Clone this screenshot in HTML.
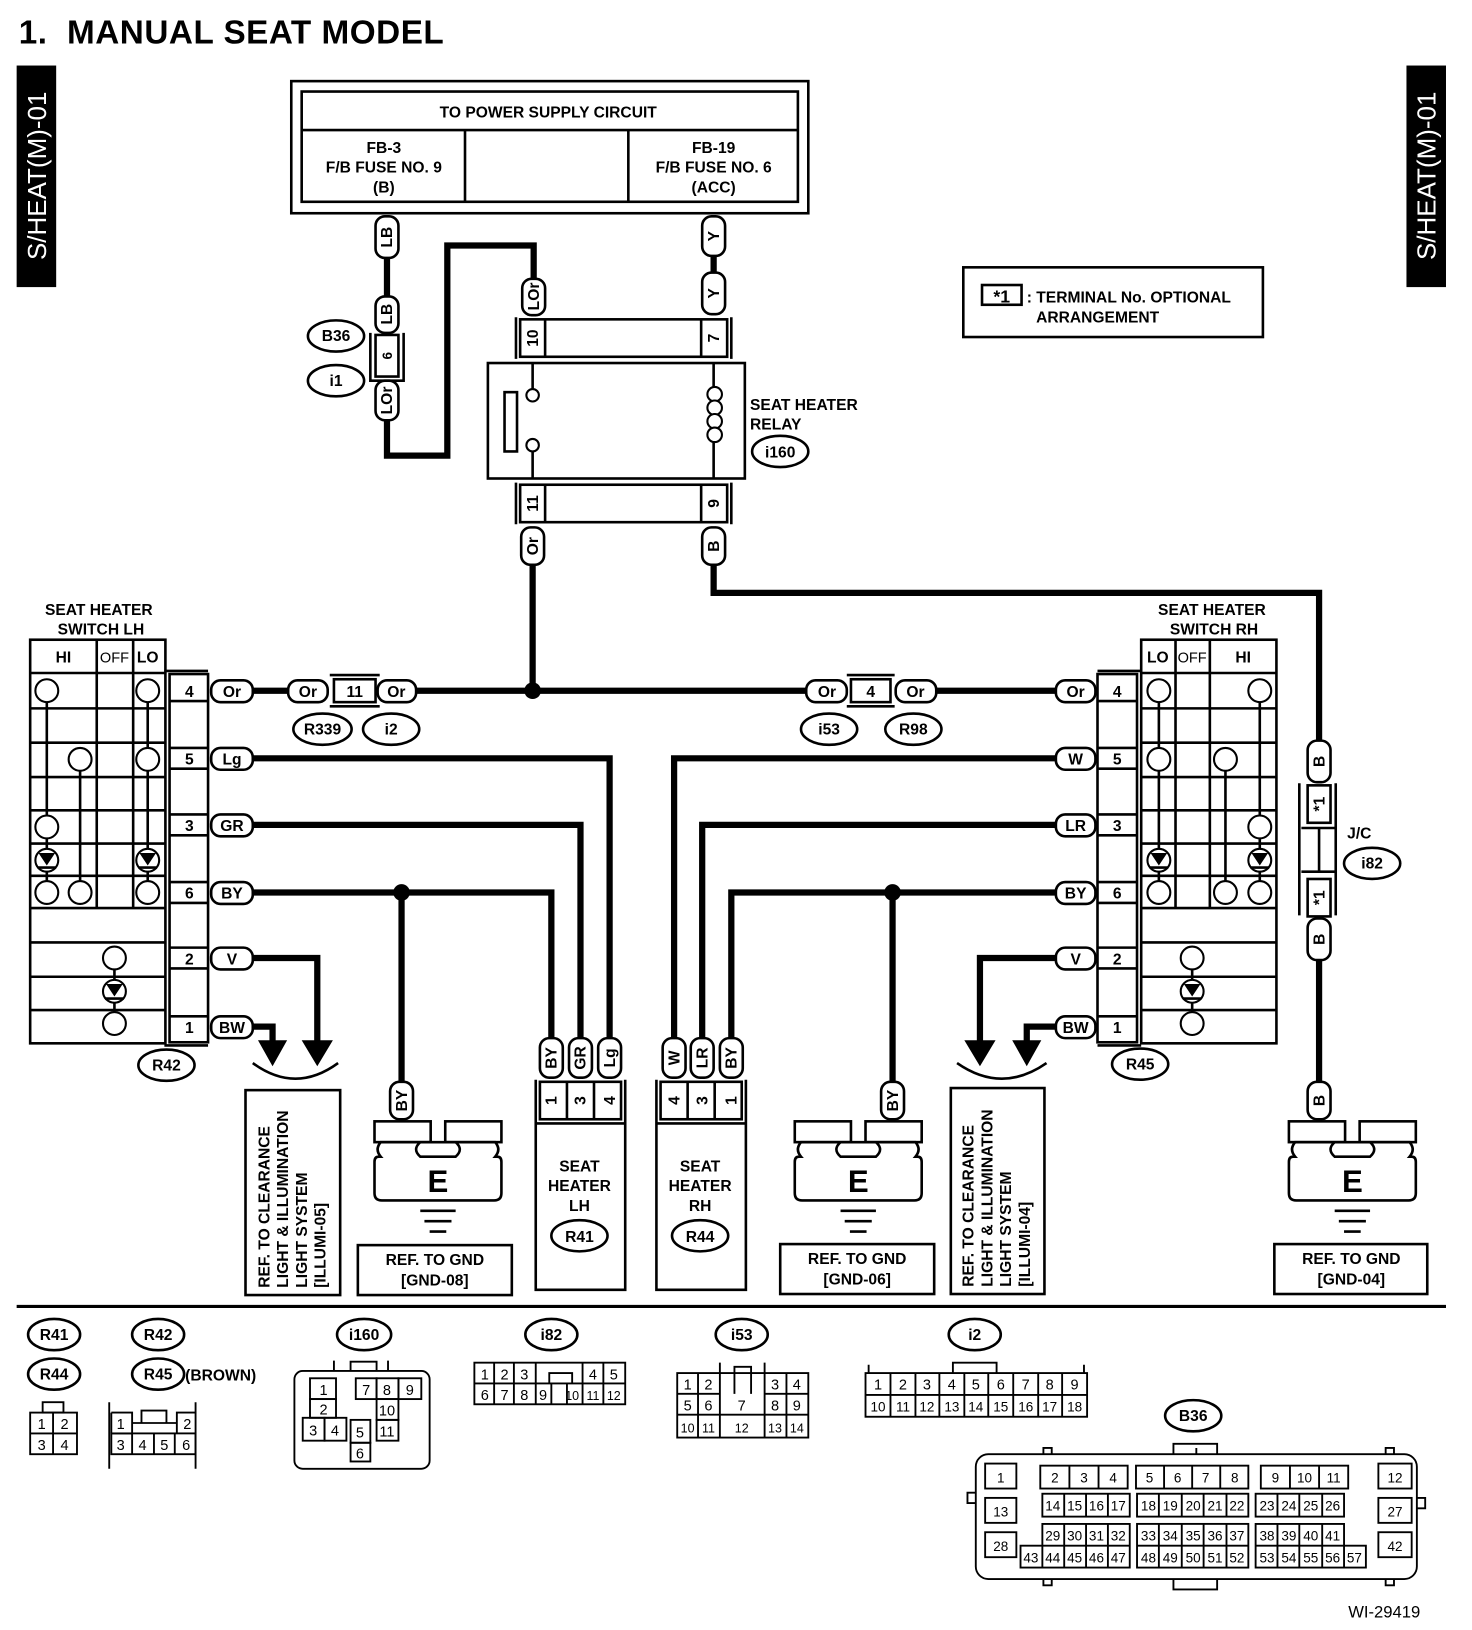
<!DOCTYPE html>
<html><head><meta charset="utf-8"><style>
html,body{margin:0;padding:0;background:#fff}
svg{display:block}
.t{font-family:"Liberation Sans",sans-serif;font-weight:bold;font-size:15px;fill:#000}
.s{font-family:"Liberation Sans",sans-serif;font-size:14px;fill:#000}
.w{fill:none;stroke:#000;stroke-width:6}
.l{fill:none;stroke:#000;stroke-width:2.5}
.p{fill:#fff;stroke:#000;stroke-width:2.5}
.c{fill:#fff;stroke:#000;stroke-width:2}
</style></head><body>
<svg width="1472" height="1630" viewBox="0 0 1415 1567" preserveAspectRatio="none" xmlns="http://www.w3.org/2000/svg">
<text x="18" y="42" class="t" style="font-size:32px;letter-spacing:0.5px">1.&#160; MANUAL SEAT MODEL</text>
<rect x="16" y="63" width="38" height="213" fill="#000"/>
<text transform="translate(44,169) rotate(-90)" text-anchor="middle" class="t" style="font-size:25px;fill:#fff;font-weight:normal">S/HEAT(M)-01</text>
<rect x="1352" y="63" width="38" height="213" fill="#000"/>
<text transform="translate(1380,169) rotate(-90)" text-anchor="middle" class="t" style="font-size:25px;fill:#fff;font-weight:normal">S/HEAT(M)-01</text>

<rect x="280" y="78" width="497" height="127" class="l"/>
<rect x="290" y="88" width="477" height="106" class="l"/>
<line x1="290" y1="125" x2="767" y2="125" class="l"/>
<line x1="447" y1="125" x2="447" y2="194" class="l"/>
<line x1="604" y1="125" x2="604" y2="194" class="l"/>
<g class="t" text-anchor="middle">
<text x="527" y="113">TO POWER SUPPLY CIRCUIT</text>
<text x="369" y="147">FB-3</text><text x="369" y="166">F/B FUSE NO. 9</text><text x="369" y="185">(B)</text>
<text x="686" y="147">FB-19</text><text x="686" y="166">F/B FUSE NO. 6</text><text x="686" y="185">(ACC)</text>
</g>

<rect x="926" y="257" width="288" height="67" class="l"/>
<rect x="944" y="274" width="38" height="19" class="l"/>
<text x="963" y="291" text-anchor="middle" class="t" style="font-size:17px">*1</text>
<text x="987" y="291" class="t">: TERMINAL No. OPTIONAL</text>
<text x="996" y="310" class="t">ARRANGEMENT</text>

<path class="w" d="M372 248V285M372 404V438H430V236H513V268M686 246V262M512 543V664M686 543V570H1268V712M1268 923V1040M243 664H277M400 664H775M900 664H1015"/>
<path class="w" d="M243 729H586V998M243 793H558V998M243 858H530V998M386 858V1040M243 921H305V1002M243 987H262V1002"/>
<path class="w" d="M1015 729H648V998M1015 793H675V998M1015 858H703V998M858 858V1040M1015 921H942V1002M1015 987H987V1002"/>
<circle cx="512" cy="664" r="8"/><circle cx="386" cy="858" r="8"/><circle cx="858" cy="858" r="8"/>
<path d="M290 1000H320L305 1025Z M248 1000H276L262 1025Z M927 1000H957L942 1025Z M973 1000H1001L987 1025Z"/>
<path class="l" d="M243 1022Q284 1052 325 1022M920 1022Q963 1052 1006 1022"/>

<g class="p">
<rect x="361" y="208" width="22" height="40" rx="9"/>
<rect x="361" y="285" width="22" height="35" rx="9"/>
<rect x="361" y="366" width="22" height="38" rx="9"/>
<rect x="502" y="268" width="22" height="35" rx="9"/>
<rect x="675" y="208" width="22" height="38" rx="9"/>
<rect x="675" y="262" width="22" height="40" rx="9"/>
<rect x="501" y="507" width="22" height="36" rx="9"/>
<rect x="675" y="507" width="22" height="36" rx="9"/>
<rect x="1257" y="712" width="22" height="40" rx="9"/>
<rect x="1257" y="883" width="22" height="40" rx="9"/>
<rect x="1257" y="1040" width="22" height="36" rx="9"/>
<rect x="375" y="1040" width="22" height="36" rx="9"/>
<rect x="847" y="1040" width="22" height="36" rx="9"/>
<rect x="519" y="998" width="22" height="38" rx="9"/>
<rect x="547" y="998" width="22" height="38" rx="9"/>
<rect x="575" y="998" width="22" height="38" rx="9"/>
<rect x="637" y="998" width="22" height="38" rx="9"/>
<rect x="664" y="998" width="22" height="38" rx="9"/>
<rect x="692" y="998" width="22" height="38" rx="9"/>
</g>
<g class="t" text-anchor="middle">
<text transform="translate(377,228) rotate(-90)">LB</text>
<text transform="translate(377,302) rotate(-90)">LB</text>
<text transform="translate(377,385) rotate(-90)">LOr</text>
<text transform="translate(518,285) rotate(-90)">LOr</text>
<text transform="translate(691,227) rotate(-90)">Y</text>
<text transform="translate(691,282) rotate(-90)">Y</text>
<text transform="translate(517,525) rotate(-90)">Or</text>
<text transform="translate(691,525) rotate(-90)">B</text>
<text transform="translate(1273,732) rotate(-90)">B</text>
<text transform="translate(1273,903) rotate(-90)">B</text>
<text transform="translate(1273,1058) rotate(-90)">B</text>
<text transform="translate(391,1058) rotate(-90)">BY</text>
<text transform="translate(863,1058) rotate(-90)">BY</text>
<text transform="translate(535,1017) rotate(-90)">BY</text>
<text transform="translate(563,1017) rotate(-90)">GR</text>
<text transform="translate(591,1017) rotate(-90)">Lg</text>
<text transform="translate(653,1017) rotate(-90)">W</text>
<text transform="translate(680,1017) rotate(-90)">LR</text>
<text transform="translate(708,1017) rotate(-90)">BY</text>
</g>

<rect x="361" y="322" width="22" height="40" class="p"/>
<path class="l" d="M356 320V366H388V320"/>
<text transform="translate(377,342) rotate(-90)" text-anchor="middle" class="t" style="font-size:13px">6</text>
<ellipse cx="323" cy="323" rx="27" ry="15" class="p"/><text x="323" y="328" text-anchor="middle" class="t">B36</text>
<ellipse cx="323" cy="366" rx="27" ry="15" class="p"/><text x="323" y="371" text-anchor="middle" class="t">i1</text>

<path class="l" d="M496 305V345M703 305V345M496 464V504M703 464V504"/>
<rect x="500" y="307" width="199" height="36" class="l"/>
<line x1="524" y1="307" x2="524" y2="343" class="l"/><line x1="674" y1="307" x2="674" y2="343" class="l"/>
<rect x="500" y="466" width="199" height="36" class="l"/>
<line x1="524" y1="466" x2="524" y2="502" class="l"/><line x1="674" y1="466" x2="674" y2="502" class="l"/>
<g class="t" text-anchor="middle">
<text transform="translate(517,325) rotate(-90)">10</text>
<text transform="translate(691,325) rotate(-90)">7</text>
<text transform="translate(517,484) rotate(-90)">11</text>
<text transform="translate(691,484) rotate(-90)">9</text>
</g>
<rect x="469" y="349" width="247" height="111" class="l"/>
<rect x="485" y="377" width="12" height="57" class="l"/>
<path class="l" d="M512 349V374M512 434V460M686 349V372M686 425V460"/>
<circle cx="512" cy="380" r="6" class="c"/><circle cx="512" cy="428" r="6" class="c"/>
<g class="c"><circle cx="687" cy="379" r="7"/><circle cx="687" cy="392" r="7"/><circle cx="687" cy="405" r="7"/><circle cx="687" cy="418" r="7"/></g>
<text x="721" y="394" class="t">SEAT HEATER</text><text x="721" y="413" class="t">RELAY</text>
<ellipse cx="750" cy="434" rx="27" ry="15" class="p"/><text x="750" y="440" text-anchor="middle" class="t">i160</text>

<g class="p">
<rect x="203" y="654" width="40" height="21" rx="9"/>
<rect x="277" y="654" width="38" height="21" rx="9"/>
<rect x="363" y="654" width="37" height="21" rx="9"/>
<rect x="775" y="654" width="39" height="21" rx="9"/>
<rect x="861" y="654" width="39" height="21" rx="9"/>
<rect x="1015" y="654" width="38" height="21" rx="9"/>
<rect x="321" y="653" width="40" height="22"/>
<rect x="818" y="653" width="38" height="22"/>
<rect x="203" y="719" width="40" height="21" rx="9"/>
<rect x="203" y="783" width="40" height="21" rx="9"/>
<rect x="203" y="848" width="40" height="21" rx="9"/>
<rect x="203" y="911" width="40" height="21" rx="9"/>
<rect x="203" y="977" width="40" height="21" rx="9"/>
<rect x="1015" y="719" width="38" height="21" rx="9"/>
<rect x="1015" y="783" width="38" height="21" rx="9"/>
<rect x="1015" y="848" width="38" height="21" rx="9"/>
<rect x="1015" y="911" width="38" height="21" rx="9"/>
<rect x="1015" y="977" width="38" height="21" rx="9"/>
</g>
<path class="l" d="M317 649H365M317 679H365M814 649H860M814 679H860"/>
<g class="t" text-anchor="middle">
<text x="223" y="670">Or</text><text x="296" y="670">Or</text><text x="341" y="670">11</text><text x="381" y="670">Or</text>
<text x="795" y="670">Or</text><text x="837" y="670">4</text><text x="880" y="670">Or</text><text x="1034" y="670">Or</text>
<text x="223" y="735">Lg</text><text x="223" y="799">GR</text><text x="223" y="864">BY</text><text x="223" y="927">V</text><text x="223" y="993">BW</text>
<text x="1034" y="735">W</text><text x="1034" y="799">LR</text><text x="1034" y="864">BY</text><text x="1034" y="927">V</text><text x="1034" y="993">BW</text>
</g>
<g class="p">
<ellipse cx="310" cy="701" rx="28" ry="15"/><ellipse cx="376" cy="701" rx="27" ry="15"/>
<ellipse cx="797" cy="701" rx="27" ry="15"/><ellipse cx="878" cy="701" rx="27" ry="15"/>
<ellipse cx="160" cy="1024" rx="27" ry="15"/><ellipse cx="1096" cy="1023" rx="27" ry="15"/>
<ellipse cx="1319" cy="830" rx="27" ry="15"/>
</g>
<g class="t" text-anchor="middle">
<text x="310" y="706">R339</text><text x="376" y="706">i2</text><text x="797" y="706">i53</text><text x="878" y="706">R98</text>
<text x="160" y="1029">R42</text><text x="1096" y="1028">R45</text><text x="1319" y="835">i82</text>
</g>

<rect x="1257" y="755" width="22" height="36" class="p"/>
<rect x="1257" y="845" width="22" height="36" class="p"/>
<path class="l" d="M1249 753V880M1284 753V880M1251 796H1284M1251 838H1284M1268 796V838"/>
<text transform="translate(1273,773) rotate(-90)" text-anchor="middle" class="t">*1</text>
<text transform="translate(1273,863) rotate(-90)" text-anchor="middle" class="t">*1</text>
<text x="1295" y="806" class="t">J/C</text>

<text x="95" y="591" text-anchor="middle" class="t">SEAT HEATER</text>
<text x="97" y="610" text-anchor="middle" class="t">SWITCH LH</text>
<rect x="29" y="615" width="130" height="388" class="l"/>
<path class="l" d="M29 647H159M93 615V873M128 615V873M29 681H159M29 714H159M29 747H159M29 779H159M29 811H159M29 842H159M29 873H159M29 906H159M29 939H159M29 971H159"/>
<g class="t" text-anchor="middle"><text x="61" y="637">HI</text><text x="110" y="637" style="font-size:14px;font-weight:normal">OFF</text><text x="142" y="637">LO</text></g>
<path class="l" d="M45 664V858M142 664V858M77 730V858M110 921V984"/>
<g class="c"><circle cx="45" cy="664" r="11"/><circle cx="142" cy="664" r="11"/><circle cx="77" cy="730" r="11"/><circle cx="142" cy="730" r="11"/><circle cx="45" cy="795" r="11"/><circle cx="45" cy="858" r="11"/><circle cx="77" cy="858" r="11"/><circle cx="142" cy="858" r="11"/><circle cx="45" cy="827" r="11"/><circle cx="142" cy="827" r="11"/><circle cx="110" cy="921" r="11"/><circle cx="110" cy="953" r="11"/><circle cx="110" cy="984" r="11"/></g>
<path d="M37 820H53L45 832Z M134 820H150L142 832Z M102 946H118L110 958Z"/>
<path class="l" d="M36 834H54M133 834H151M101 960H119"/>
<path class="l" d="M158 645H200M158 1005H200"/>
<rect x="163" y="648" width="37" height="354" class="l"/>
<path class="l" d="M163 674H200M163 719H200M163 739H200M163 783H200M163 803H200M163 848H200M163 868H200M163 911H200M163 931H200M163 977H200"/>
<g class="t" text-anchor="middle"><text x="182" y="670">4</text><text x="182" y="735">5</text><text x="182" y="799">3</text><text x="182" y="864">6</text><text x="182" y="927">2</text><text x="182" y="993">1</text></g>

<text x="1165" y="591" text-anchor="middle" class="t">SEAT HEATER</text>
<text x="1167" y="610" text-anchor="middle" class="t">SWITCH RH</text>
<rect x="1097" y="615" width="130" height="388" class="l"/>
<path class="l" d="M1097 647H1227M1130 615V873M1163 615V873M1097 681H1227M1097 714H1227M1097 747H1227M1097 779H1227M1097 811H1227M1097 842H1227M1097 873H1227M1097 906H1227M1097 939H1227M1097 971H1227"/>
<g class="t" text-anchor="middle"><text x="1113" y="637">LO</text><text x="1146" y="637" style="font-size:14px;font-weight:normal">OFF</text><text x="1195" y="637">HI</text></g>
<path class="l" d="M1114 664V858M1178 730V858M1211 664V858M1146 921V984"/>
<g class="c"><circle cx="1114" cy="664" r="11"/><circle cx="1211" cy="664" r="11"/><circle cx="1114" cy="730" r="11"/><circle cx="1178" cy="730" r="11"/><circle cx="1211" cy="795" r="11"/><circle cx="1114" cy="858" r="11"/><circle cx="1178" cy="858" r="11"/><circle cx="1211" cy="858" r="11"/><circle cx="1114" cy="827" r="11"/><circle cx="1211" cy="827" r="11"/><circle cx="1146" cy="921" r="11"/><circle cx="1146" cy="953" r="11"/><circle cx="1146" cy="984" r="11"/></g>
<path d="M1106 820H1122L1114 832Z M1203 820H1219L1211 832Z M1138 946H1154L1146 958Z"/>
<path class="l" d="M1105 834H1123M1202 834H1220M1137 960H1155"/>
<path class="l" d="M1055 645H1097M1055 1005H1097"/>
<rect x="1055" y="648" width="38" height="354" class="l"/>
<path class="l" d="M1055 674H1093M1055 719H1093M1055 739H1093M1055 783H1093M1055 803H1093M1055 848H1093M1055 868H1093M1055 911H1093M1055 931H1093M1055 977H1093"/>
<g class="t" text-anchor="middle"><text x="1074" y="670">4</text><text x="1074" y="735">5</text><text x="1074" y="799">3</text><text x="1074" y="864">6</text><text x="1074" y="927">2</text><text x="1074" y="993">1</text></g>

<path class="l" d="M515 1038V1240H601V1038M631 1038V1240H717V1038"/>
<rect x="519" y="1040" width="78" height="36" class="l"/>
<path class="l" d="M545 1040V1076M571 1040V1076M515 1080H601"/>
<rect x="635" y="1040" width="78" height="36" class="l"/>
<path class="l" d="M661 1040V1076M687 1040V1076M631 1080H717"/>
<g class="t" text-anchor="middle">
<text transform="translate(535,1058) rotate(-90)">1</text><text transform="translate(563,1058) rotate(-90)">3</text><text transform="translate(591,1058) rotate(-90)">4</text>
<text transform="translate(653,1058) rotate(-90)">4</text><text transform="translate(680,1058) rotate(-90)">3</text><text transform="translate(708,1058) rotate(-90)">1</text>
<text x="557" y="1126">SEAT</text><text x="557" y="1145">HEATER</text><text x="557" y="1164">LH</text>
<text x="673" y="1126">SEAT</text><text x="673" y="1145">HEATER</text><text x="673" y="1164">RH</text>
</g>
<ellipse cx="557" cy="1188" rx="27" ry="15" class="p"/><text x="557" y="1194" text-anchor="middle" class="t">R41</text>
<ellipse cx="673" cy="1188" rx="27" ry="15" class="p"/><text x="673" y="1194" text-anchor="middle" class="t">R44</text>

<rect x="236" y="1048" width="91" height="197" class="l"/>
<g class="t"><text transform="translate(259,1238) rotate(-90)">REF. TO CLEARANCE</text><text transform="translate(277,1238) rotate(-90)">LIGHT &amp; ILLUMINATION</text><text transform="translate(295,1238) rotate(-90)">LIGHT SYSTEM</text><text transform="translate(313,1238) rotate(-90)">[ILLUMI-05]</text></g>
<rect x="914" y="1046" width="90" height="198" class="l"/>
<g class="t"><text transform="translate(936,1237) rotate(-90)">REF. TO CLEARANCE</text><text transform="translate(954,1237) rotate(-90)">LIGHT &amp; ILLUMINATION</text><text transform="translate(972,1237) rotate(-90)">LIGHT SYSTEM</text><text transform="translate(990,1237) rotate(-90)">[ILLUMI-04]</text></g>

<g transform="translate(360,0)">
<rect x="0" y="1078" width="54" height="20" class="p"/><rect x="68" y="1078" width="54" height="20" class="p"/>
<path class="p" d="M6 1098q-6 7 0 14h-2q-4 0-4 5v30q0 7 7 7h108q7 0 7-7v-30q0-5-4-5h-2q6-7 0-14Z"/>
<path class="l" d="M44 1098q-8 7 0 14h34q8-7 0-14"/>
<text x="61" y="1146" text-anchor="middle" class="t" style="font-size:30px">E</text>
<path class="l" d="M44 1164H78M48 1174H74M53 1184H69"/>
</g>
<g transform="translate(764,0)">
<rect x="0" y="1078" width="54" height="20" class="p"/><rect x="68" y="1078" width="54" height="20" class="p"/>
<path class="p" d="M6 1098q-6 7 0 14h-2q-4 0-4 5v30q0 7 7 7h108q7 0 7-7v-30q0-5-4-5h-2q6-7 0-14Z"/>
<path class="l" d="M44 1098q-8 7 0 14h34q8-7 0-14"/>
<text x="61" y="1146" text-anchor="middle" class="t" style="font-size:30px">E</text>
<path class="l" d="M44 1164H78M48 1174H74M53 1184H69"/>
</g>
<g transform="translate(1239,0)">
<rect x="0" y="1078" width="54" height="20" class="p"/><rect x="68" y="1078" width="54" height="20" class="p"/>
<path class="p" d="M6 1098q-6 7 0 14h-2q-4 0-4 5v30q0 7 7 7h108q7 0 7-7v-30q0-5-4-5h-2q6-7 0-14Z"/>
<path class="l" d="M44 1098q-8 7 0 14h34q8-7 0-14"/>
<text x="61" y="1146" text-anchor="middle" class="t" style="font-size:30px">E</text>
<path class="l" d="M44 1164H78M48 1174H74M53 1184H69"/>
</g>
<rect x="344" y="1197" width="148" height="48" class="l"/>
<rect x="750" y="1196" width="148" height="48" class="l"/>
<rect x="1225" y="1196" width="147" height="48" class="l"/>
<g class="t" text-anchor="middle">
<text x="418" y="1216">REF. TO GND</text><text x="418" y="1236">[GND-08]</text>
<text x="824" y="1215">REF. TO GND</text><text x="824" y="1235">[GND-06]</text>
<text x="1299" y="1215">REF. TO GND</text><text x="1299" y="1235">[GND-04]</text>
</g>

<line x1="16" y1="1256" x2="1390" y2="1256" stroke="#000" stroke-width="3"/>

<g class="p">
<ellipse cx="52" cy="1283" rx="25" ry="15"/><ellipse cx="52" cy="1321" rx="25" ry="15"/>
<ellipse cx="152" cy="1283" rx="25" ry="15"/><ellipse cx="152" cy="1321" rx="25" ry="15"/>
<ellipse cx="350" cy="1283" rx="26" ry="15"/><ellipse cx="530" cy="1283" rx="25" ry="15"/>
<ellipse cx="713" cy="1283" rx="25" ry="15"/><ellipse cx="937" cy="1283" rx="25" ry="15"/>
<ellipse cx="1147" cy="1361" rx="27" ry="15"/>
</g>
<g class="t" text-anchor="middle">
<text x="52" y="1288">R41</text><text x="52" y="1326">R44</text><text x="152" y="1288">R42</text><text x="152" y="1326">R45</text>
<text x="350" y="1288">i160</text><text x="530" y="1288">i82</text><text x="713" y="1288">i53</text><text x="937" y="1288">i2</text><text x="1147" y="1366">B36</text>
</g>
<text x="178" y="1327" class="t">(BROWN)</text>

<g class="l" style="stroke-width:1.8">
<rect x="41" y="1348" width="20" height="10"/><rect x="29" y="1358" width="45" height="40"/><path d="M51 1358V1398M29 1378H74"/>
<path d="M105 1348V1412M188 1348V1412M107 1358H127V1378M170 1378V1358H188M127 1368H170V1378M136 1368V1356H160V1368"/>
<rect x="107" y="1378" width="81" height="20"/><path d="M107 1358V1378M127 1378V1398M148 1378V1398M168 1378V1398M107 1378H127"/>
<rect x="283" y="1318" width="130" height="94" rx="8"/><path d="M337 1318V1309H362V1318M321 1318V1308M373 1318V1308"/>
<rect x="298" y="1325" width="25" height="20"/><rect x="298" y="1345" width="25" height="18"/><rect x="291" y="1363" width="21" height="22"/><rect x="312" y="1363" width="21" height="22"/>
<rect x="342" y="1325" width="20" height="20"/><rect x="362" y="1325" width="21" height="20"/><rect x="383" y="1325" width="22" height="20"/>
<rect x="362" y="1345" width="21" height="20"/><rect x="362" y="1365" width="21" height="20"/>
<rect x="337" y="1365" width="19" height="22"/><rect x="337" y="1387" width="19" height="18"/>
<rect x="456" y="1310" width="145" height="40"/><path d="M456 1330H601M475 1310V1350M494 1310V1350M515 1310V1350M530 1330V1350M545 1330V1350M560 1310V1350M580 1310V1350M528 1330V1320H550V1330"/>
<rect x="651" y="1320" width="126" height="62"/><path d="M651 1340H692M735 1340H777M651 1360H777M671 1320V1382M692 1320V1382M735 1320V1382M756 1320V1340M756 1360V1382M756 1340V1360M706 1340V1314H722V1340M692 1320V1310M735 1320V1310"/>
<rect x="832" y="1320" width="213" height="42"/><path d="M832 1341H1045M856 1320V1362M880 1320V1362M903 1320V1362M927 1320V1362M950 1320V1362M974 1320V1362M998 1320V1362M1021 1320V1362M916 1320V1310H958V1320M835 1320V1312M1042 1320V1312"/>
<rect x="938" y="1398" width="424" height="120" rx="12"/>
<path d="M1128 1398V1388H1170V1398M1128 1518V1528H1170V1518M1003 1398V1392H1011V1398M1150 1398V1392M1332 1398V1392H1340V1398M1003 1518V1524H1011V1518M1332 1518V1524H1340V1518M938 1435H930V1445H938M1362 1440H1370V1450H1362"/>
<rect x="947" y="1407" width="30" height="24"/><rect x="947" y="1440" width="30" height="24"/><rect x="947" y="1473" width="30" height="24"/>
<rect x="1325" y="1407" width="32" height="24"/><rect x="1325" y="1440" width="32" height="24"/><rect x="1325" y="1473" width="32" height="24"/>
<rect x="1000" y="1409" width="84" height="22"/><path d="M1028 1409V1431M1056 1409V1431"/>
<rect x="1092" y="1409" width="108" height="22"/><path d="M1119 1409V1431M1146 1409V1431M1173 1409V1431"/>
<rect x="1212" y="1409" width="84" height="22"/><path d="M1240 1409V1431M1268 1409V1431"/>
<rect x="1002" y="1436" width="84" height="22"/><path d="M1023 1436V1458M1044 1436V1458M1065 1436V1458"/>
<rect x="1093" y="1436" width="107" height="22"/><path d="M1114 1436V1458M1136 1436V1458M1157 1436V1458M1179 1436V1458"/>
<rect x="1207" y="1436" width="85" height="22"/><path d="M1228 1436V1458M1249 1436V1458M1271 1436V1458"/>
<path d="M1002 1486V1465H1086V1507H981V1486H1086M1023 1465V1507M1044 1465V1507M1065 1465V1507M1002 1486V1507"/>
<rect x="1093" y="1465" width="107" height="42"/><path d="M1093 1486H1200M1114 1465V1507M1136 1465V1507M1157 1465V1507M1179 1465V1507"/>
<path d="M1207 1486V1465H1292V1486M1207 1486V1507H1313V1486H1207M1228 1465V1507M1249 1465V1507M1271 1465V1507M1292 1486V1507"/>
</g>
<g class="s" text-anchor="middle">
<text x="40" y="1374">1</text><text x="62" y="1374">2</text><text x="40" y="1394">3</text><text x="62" y="1394">4</text>
<text x="116" y="1374">1</text><text x="180" y="1374">2</text><text x="116" y="1394">3</text><text x="137" y="1394">4</text><text x="158" y="1394">5</text><text x="179" y="1394">6</text>
<text x="311" y="1341">1</text><text x="311" y="1360">2</text><text x="301" y="1380">3</text><text x="322" y="1380">4</text>
<text x="352" y="1341">7</text><text x="372" y="1341">8</text><text x="394" y="1341">9</text><text x="372" y="1361">10</text><text x="372" y="1381">11</text><text x="346" y="1382">5</text><text x="346" y="1402">6</text>
<text x="466" y="1326">1</text><text x="485" y="1326">2</text><text x="504" y="1326">3</text><text x="570" y="1326">4</text><text x="590" y="1326">5</text>
<text x="466" y="1346">6</text><text x="485" y="1346">7</text><text x="504" y="1346">8</text><text x="522" y="1346">9</text><text x="550" y="1346" style="font-size:12px">10</text><text x="570" y="1346" style="font-size:12px">11</text><text x="590" y="1346" style="font-size:12px">12</text>
<text x="661" y="1336">1</text><text x="681" y="1336">2</text><text x="745" y="1336">3</text><text x="766" y="1336">4</text>
<text x="661" y="1356">5</text><text x="681" y="1356">6</text><text x="713" y="1356">7</text><text x="745" y="1356">8</text><text x="766" y="1356">9</text>
<text x="661" y="1377" style="font-size:12px">10</text><text x="681" y="1377" style="font-size:12px">11</text><text x="713" y="1377" style="font-size:12px">12</text><text x="745" y="1377" style="font-size:12px">13</text><text x="766" y="1377" style="font-size:12px">14</text>
<text x="844" y="1336">1</text><text x="868" y="1336">2</text><text x="891" y="1336">3</text><text x="915" y="1336">4</text><text x="938" y="1336">5</text><text x="962" y="1336">6</text><text x="986" y="1336">7</text><text x="1009" y="1336">8</text><text x="1033" y="1336">9</text>
</g>
<g class="s" text-anchor="middle" style="font-size:13px">
<text x="844" y="1357">10</text><text x="868" y="1357">11</text><text x="891" y="1357">12</text><text x="915" y="1357">13</text><text x="938" y="1357">14</text><text x="962" y="1357">15</text><text x="986" y="1357">16</text><text x="1009" y="1357">17</text><text x="1033" y="1357">18</text>
<text x="962" y="1425">1</text><text x="1014" y="1425">2</text><text x="1042" y="1425">3</text><text x="1070" y="1425">4</text>
<text x="1105" y="1425">5</text><text x="1132" y="1425">6</text><text x="1159" y="1425">7</text><text x="1187" y="1425">8</text>
<text x="1226" y="1425">9</text><text x="1254" y="1425">10</text><text x="1282" y="1425">11</text><text x="1341" y="1425">12</text>
<text x="962" y="1458">13</text><text x="1012" y="1452">14</text><text x="1033" y="1452">15</text><text x="1054" y="1452">16</text><text x="1075" y="1452">17</text>
<text x="1104" y="1452">18</text><text x="1125" y="1452">19</text><text x="1147" y="1452">20</text><text x="1168" y="1452">21</text><text x="1189" y="1452">22</text>
<text x="1218" y="1452">23</text><text x="1239" y="1452">24</text><text x="1260" y="1452">25</text><text x="1281" y="1452">26</text><text x="1341" y="1458">27</text>
<text x="962" y="1491">28</text><text x="1012" y="1481">29</text><text x="1033" y="1481">30</text><text x="1054" y="1481">31</text><text x="1075" y="1481">32</text>
<text x="1104" y="1481">33</text><text x="1125" y="1481">34</text><text x="1147" y="1481">35</text><text x="1168" y="1481">36</text><text x="1189" y="1481">37</text>
<text x="1218" y="1481">38</text><text x="1239" y="1481">39</text><text x="1260" y="1481">40</text><text x="1281" y="1481">41</text><text x="1341" y="1491">42</text>
<text x="991" y="1502">43</text><text x="1012" y="1502">44</text><text x="1033" y="1502">45</text><text x="1054" y="1502">46</text><text x="1075" y="1502">47</text>
<text x="1104" y="1502">48</text><text x="1125" y="1502">49</text><text x="1147" y="1502">50</text><text x="1168" y="1502">51</text><text x="1189" y="1502">52</text>
<text x="1218" y="1502">53</text><text x="1239" y="1502">54</text><text x="1260" y="1502">55</text><text x="1281" y="1502">56</text><text x="1302" y="1502">57</text>
</g>
<text x="1296" y="1555" class="s" style="font-size:16px">WI-29419</text>
</svg>
</body></html>
